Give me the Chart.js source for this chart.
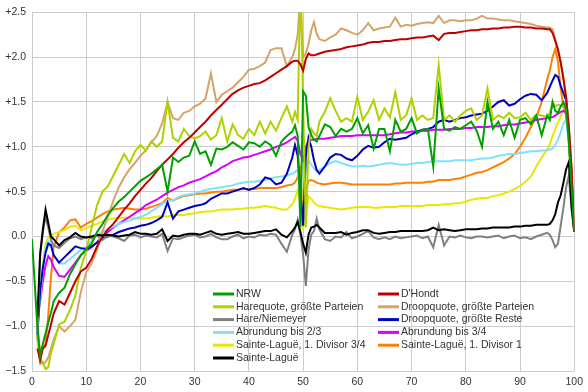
<!DOCTYPE html>
<html>
<head>
<meta charset="utf-8">
<style>
  html, body { margin: 0; padding: 0; background: #fff; }
  #wrap { width: 588px; height: 392px; }
</style>
<script src="https://cdn.jsdelivr.net/npm/chart.js@4.4.1/dist/chart.umd.min.js"></script>
</head>
<body>
<div id="wrap"><canvas id="chart" width="588" height="392"></canvas></div>
<script>
// ── Data ───────────────────────────────────────────────────────────────────
// shared x values; half steps where the curves move fast

const XS = [
  0, 0.5, 1, 1.5, 2, 2.5, 3, 3.5, 4,
  5, 6, 7, 8, 9, 10, 11, 12, 13, 14,
  15, 16, 17, 18, 19, 20, 21, 22, 23, 24,
  25, 26, 27, 28, 29, 30, 31, 32, 33, 34,
  35, 36, 37, 38, 39, 40, 41, 42, 43, 44,
  45, 46, 47, 48,
  48.5, 49, 49.5, 50, 50.5, 51, 51.5, 52, 52.5, 53,
  54, 55, 56, 57, 58, 59, 60, 61, 62, 63,
  64, 65, 66, 67, 68, 69, 70, 71, 72, 73,
  74, 75, 76, 77, 78, 79, 80, 81, 82, 83,
  84, 85, 86, 87, 88, 89, 90, 91, 92, 93,
  94, 95, 95.5, 96, 96.5, 97, 97.5, 98, 98.5, 99, 99.5, 100
];

const NRW = [
  -0.03, -0.52, -1.02, -1.33, -1.2, -1.08, -0.96, -0.85, -0.72,
  -0.63, -0.57, -0.42, -0.31, -0.21, -0.14, -0.08, 0.05, 0.14, 0.24,
  0.32, 0.39, 0.44, 0.5, 0.56, 0.62, 0.66, 0.7, 0.75, 0.8,
  0.5, 0.88, 0.83, 0.88, 0.9, 1.06, 0.92, 0.95, 0.8, 0.98,
  0.97, 1.0, 1.05, 1.01, 0.97, 1.05, 1.04, 1.0, 1.06, 1.02,
  0.9, 1.06, 1.12, 1.17,
  1.24, 1.12, 0.1, 1.62, 1.57, 1.22, 1.13, 1.08, 1.06, 1.12,
  1.25, 1.22, 1.12, 1.2, 1.17, 1.2, 1.32, 1.15, 1.24, 0.98,
  1.2, 1.2, 0.95, 1.3, 1.17, 1.2, 1.32, 1.15, 1.19, 1.2,
  0.78, 1.65, 1.2, 1.18, 1.22, 1.2, 1.24, 1.28, 1.18, 1.0,
  1.5, 1.2, 1.28, 1.13, 1.3, 1.1, 1.3, 1.32, 1.25, 1.35,
  1.13, 1.35, 1.3, 1.5, 1.4, 1.38, 1.45, 1.5, 1.42, 1.05, 0.55, 0.05
];

const DHONDT = [
  null, null, -1.25, -1.38, -1.25, -1.22, -1.1, -0.98, -0.86,
  -0.72, -0.76, -0.63, -0.5, -0.39, -0.35, -0.25, -0.11, 0.0, 0.08,
  0.14, 0.22, 0.3, 0.37, 0.45, 0.52, 0.59, 0.65, 0.73, 0.8,
  0.86, 0.92, 0.99, 1.05, 1.1, 1.16, 1.22, 1.28, 1.35, 1.41,
  1.47, 1.53, 1.59, 1.63, 1.66, 1.68, 1.7, 1.71, 1.74, 1.78,
  1.82, 1.86, 1.9, 1.95,
  1.96, 1.96, 1.92, 1.85, 1.98, 2.04, 2.02, 2.02, 2.03, 2.04,
  2.06, 2.07, 2.08, 2.09, 2.11, 2.12, 2.13, 2.14, 2.16, 2.17,
  2.17, 2.18, 2.18, 2.19, 2.2, 2.2, 2.21, 2.22, 2.22, 2.23,
  2.24, 2.19, 2.26, 2.27, 2.27, 2.28, 2.29, 2.3, 2.3, 2.31,
  2.31, 2.32, 2.32, 2.33, 2.33, 2.34, 2.34, 2.33, 2.33, 2.32,
  2.32, 2.31, 2.31, 2.27, 2.18, 2.08, 1.94, 1.76, 1.55, 1.22, 0.76, 0.05
];

const HARE_GP = [
  null, null, -1.1, -1.42, -1.4, -1.48, -1.46, -1.3, -1.2,
  -0.98, -0.95, -0.82, -0.66, -0.35, -0.16, 0.1, 0.35, 0.5, 0.56,
  0.68, 0.8, 0.92, 0.82, 0.95, 1.02, 0.96, 1.06, 1.0, 1.06,
  1.5, 1.1, 1.06, 1.2, 1.12, 1.09, 1.12, 1.17, 1.08, 1.13,
  1.32, 1.06, 1.25, 1.13, 1.09, 1.2, 1.13, 1.28, 1.15, 1.28,
  1.18, 1.32, 1.45, 1.28,
  1.39, 1.3, 2.9, 1.5, 0.1, 1.0, 1.2, 1.15, 1.12, 1.28,
  1.39, 1.54, 1.4, 1.28, 1.32, 1.28, 1.56, 1.3, 1.39, 1.52,
  1.3, 1.43, 1.33, 1.61, 1.3, 1.35, 1.54, 1.3, 1.35, 1.3,
  1.32, 1.91, 1.3, 1.35, 1.28, 1.35, 1.4, 1.43, 1.3, 1.35,
  1.65, 1.3, 1.35, 1.32, 1.38, 1.32, 1.33, 1.38, 1.3, 1.36,
  1.35, 1.33, 1.38, 1.5, 1.45, 1.47, 1.46, 1.45, 1.43, 1.1, 0.6, 0.05
];

const DROOP_GP = [
  null, null, -1.15, -1.35, -1.42, -1.4, -1.35, -1.25, -1.15,
  -1.0, -1.06, -1.0, -0.93, -0.62, -0.4, -0.3, -0.15, 0.06, 0.22,
  0.4, 0.55, 0.66, 0.75, 0.82, 0.9, 0.96, 1.05, 1.12, 1.26,
  1.5, 1.32, 1.3, 1.38, 1.4, 1.45, 1.48, 1.54, 1.82, 1.5,
  1.58, 1.62, 1.66, 1.72, 1.78, 1.86, 1.87, 1.9, 1.94, 2.08,
  2.1, 2.1, 1.9, 2.0,
  2.09, 2.25, 2.7, 2.0, 2.04, 2.15, 2.3, 2.39, 2.26, 2.2,
  2.18, 2.22, 2.25, 2.32, 2.3, 2.27, 2.25, 2.3, 2.38, 2.3,
  2.32, 2.33, 2.34, 2.44, 2.34, 2.36, 2.35, 2.37, 2.38, 2.39,
  2.38, 2.46, 2.38, 2.41, 2.41, 2.4, 2.41, 2.41, 2.43, 2.46,
  2.43, 2.43, 2.42, 2.41, 2.41, 2.4, 2.39, 2.38, 2.37, 2.35,
  2.34, 2.33, 2.33, 2.31, 2.2, 2.1, 1.95, 1.77, 1.56, 1.23, 0.77, 0.05
];

const HARE_NIEMEYER = [
  null, null, -1.15, -0.2, 0.04, 0.22, 0.1, -0.04, -0.1,
  -0.13, -0.07, -0.02, 0.0, -0.03, -0.01, -0.02, 0.01, -0.04, 0.01,
  0.0, -0.02, -0.05, 0.01, 0.02, -0.01, 0.01, 0.0, -0.01, 0.03,
  -0.16, -0.02, -0.03, -0.01, 0.01, 0.02, -0.01, 0.0, 0.03, -0.01,
  -0.03, -0.03, 0.0, 0.02, -0.02, 0.0, -0.01, 0.02, 0.01, 0.03,
  0.02, -0.08, -0.17, 0.02,
  0.08, 0.19, 0.02, -0.2, -0.55, -0.15, 0.02, 0.06, 0.2, 0.08,
  -0.03, -0.05, 0.0, -0.01, 0.05, -0.02, 0.0, 0.03, 0.06, -0.01,
  -0.03, -0.01, -0.03, 0.0, -0.02, -0.01, 0.0, 0.01, -0.02, 0.0,
  -0.12, 0.13, -0.1, 0.0, -0.01, 0.01, -0.01, -0.02, 0.0, 0.0,
  -0.01, 0.0, 0.01, -0.02, 0.0, 0.01, -0.02, -0.01, -0.03, 0.0,
  0.02, 0.04, 0.02, -0.04, -0.12, -0.08, 0.12, 0.32, 0.55, 0.68, 0.3, 0.05
];

const DROOP_GR = [
  null, null, -1.1, -0.6, -0.35, -0.18, -0.08, -0.1, -0.21,
  -0.29, -0.23, -0.17, -0.11, -0.13, -0.14, -0.11, -0.07, -0.02, 0.0,
  0.02, 0.05, 0.07, 0.09, 0.1, 0.12, 0.13, 0.15, 0.18, 0.22,
  0.38, 0.2, 0.28, 0.3, 0.32, 0.34, 0.35, 0.37, 0.42, 0.45,
  0.48, 0.48, 0.5, 0.52, 0.54, 0.52, 0.54, 0.58, 0.66, 0.64,
  0.58, 0.6, 0.7, 0.88,
  1.02, 0.9, 0.5, 0.12, 0.9, 1.1, 1.0, 0.85, 0.74, 0.7,
  0.78, 0.88, 0.92, 0.91, 0.87, 0.85, 0.9, 0.97, 1.01, 0.99,
  1.0, 1.05, 1.09, 1.08, 1.09, 1.1, 1.14, 1.17, 1.19, 1.2,
  1.22, 1.28, 1.3, 1.28, 1.3, 1.32, 1.33, 1.35, 1.36, 1.37,
  1.4, 1.45, 1.5, 1.52, 1.46, 1.48, 1.53, 1.57, 1.59, 1.58,
  1.52, 1.6, 1.67, 1.74, 1.8, 1.78, 1.68, 1.6, 1.52, 1.2, 0.7, 0.05
];

const ABR_23 = [
  null, null, -1.05, -0.7, -0.35, -0.12, -0.05, -0.08, -0.2,
  -0.3, -0.3, -0.25, -0.2, -0.15, -0.12, -0.05, 0.02, 0.05, 0.08,
  0.11, 0.14, 0.16, 0.18, 0.2, 0.22, 0.24, 0.28, 0.32, 0.36,
  0.4, 0.4, 0.44, 0.46, 0.47, 0.48, 0.5, 0.52, 0.53, 0.54,
  0.55, 0.56, 0.57, 0.59, 0.6, 0.61, 0.61, 0.62, 0.63, 0.65,
  0.66, 0.67, 0.68, 0.7,
  0.72, 0.74, 0.5, 0.12, 0.76, 0.85, 0.8, 0.76, 0.73, 0.74,
  0.78, 0.82, 0.84, 0.82, 0.8, 0.78, 0.78, 0.79, 0.78, 0.79,
  0.8, 0.81, 0.82, 0.81, 0.8, 0.8, 0.81, 0.82, 0.82, 0.83,
  0.84, 0.84, 0.84, 0.84, 0.85, 0.85, 0.85, 0.85, 0.86, 0.87,
  0.87, 0.88, 0.9, 0.91, 0.92, 0.92, 0.93, 0.94, 0.95, 0.95,
  0.96, 0.96, 0.97, 0.98, 1.02, 1.08, 1.16, 1.26, 1.3, 1.05, 0.6, 0.05
];

const ABR_34 = [
  null, null, -0.9, -0.72, -0.5, -0.32, -0.22, -0.26, -0.34,
  -0.44, -0.45, -0.37, -0.29, -0.21, -0.16, -0.12, -0.06, 0.0, 0.05,
  0.1, 0.14, 0.18, 0.22, 0.26, 0.3, 0.35, 0.38, 0.41, 0.45,
  0.49, 0.52, 0.55, 0.57, 0.6, 0.62, 0.64, 0.67, 0.7, 0.73,
  0.77, 0.8, 0.84, 0.86, 0.88, 0.89, 0.91, 0.93, 0.95, 0.97,
  1.0, 1.02, 1.05, 1.09,
  1.11, 1.07, 0.92, 0.85, 1.0, 1.07, 1.08, 1.08, 1.09, 1.09,
  1.09, 1.1, 1.11, 1.12, 1.12, 1.12, 1.13, 1.13, 1.13, 1.13,
  1.13, 1.13, 1.14, 1.15, 1.16, 1.16, 1.17, 1.17, 1.18, 1.18,
  1.19, 1.19, 1.19, 1.2, 1.2, 1.2, 1.21, 1.21, 1.22, 1.22,
  1.22, 1.23, 1.23, 1.24, 1.25, 1.25, 1.26, 1.27, 1.28, 1.3,
  1.31, 1.32, 1.33, 1.33, 1.35, 1.37, 1.39, 1.4, 1.38, 1.1, 0.6, 0.05
];

const SL_34 = [
  null, null, -1.0, -0.65, -0.3, -0.08, -0.01, 0.01, 0.03,
  0.05, 0.07, 0.11, 0.12, 0.07, 0.09, 0.12, 0.14, 0.17, 0.19,
  0.2, 0.21, 0.21, 0.21, 0.2, 0.2, 0.2, 0.21, 0.22, 0.23,
  0.22, 0.24, 0.24, 0.24, 0.25, 0.26, 0.27, 0.28, 0.28, 0.29,
  0.3, 0.3, 0.3, 0.31, 0.31, 0.32, 0.32, 0.33, 0.34, 0.33,
  0.32, 0.3, 0.3, 0.36,
  0.42, 0.52, 0.4, 0.1, 0.2, 0.45, 0.42, 0.38, 0.35, 0.34,
  0.33, 0.32, 0.31, 0.3, 0.31, 0.32, 0.33, 0.33, 0.33, 0.32,
  0.32, 0.33, 0.33, 0.33, 0.34, 0.34, 0.34, 0.34, 0.34, 0.35,
  0.35, 0.35, 0.36, 0.36, 0.37, 0.37, 0.39, 0.41, 0.42, 0.43,
  0.43, 0.45, 0.46, 0.48, 0.5, 0.53, 0.56, 0.61, 0.67, 0.78,
  0.88, 0.97, 1.03, 1.12, 1.2, 1.27, 1.34, 1.4, 1.38, 1.1, 0.6, 0.05
];

const SL_1 = [
  null, null, -1.0, -1.3, -1.22, -1.2, -0.88, -0.45, -0.12,
  0.05, 0.1, 0.18, 0.19, 0.1, 0.14, 0.17, 0.21, 0.25, 0.28,
  0.3, 0.31, 0.32, 0.31, 0.3, 0.3, 0.31, 0.33, 0.35, 0.37,
  0.43, 0.4, 0.43, 0.45, 0.46, 0.47, 0.48, 0.48, 0.49, 0.5,
  0.5, 0.51, 0.52, 0.52, 0.53, 0.53, 0.53, 0.54, 0.54, 0.54,
  0.54, 0.55, 0.57, 0.58,
  0.6, 0.66, 0.75, 0.1, 0.5, 0.62, 0.63, 0.62, 0.6, 0.59,
  0.58, 0.59, 0.6, 0.6, 0.59, 0.58, 0.58, 0.58, 0.58, 0.58,
  0.58, 0.58, 0.58, 0.59, 0.59, 0.6, 0.6, 0.6, 0.6, 0.61,
  0.61, 0.63, 0.63, 0.63, 0.64, 0.65, 0.67, 0.69, 0.71, 0.72,
  0.74, 0.77, 0.8, 0.83, 0.87, 0.92, 1.0, 1.1, 1.22, 1.33,
  1.5, 1.75, 1.85, 2.0, 2.09, 1.95, 1.65, 1.45, 1.35, 1.1, 0.6, 0.05
];

const SL = [
  null, null, -0.9, -0.2, 0.08, 0.3, 0.15, 0.0, -0.03,
  -0.1, -0.04, -0.01, 0.04, 0.0, -0.01, 0.0, 0.02, 0.01, 0.02,
  0.01, 0.0, 0.01, 0.02, 0.05, 0.03, 0.03, 0.02, 0.03, 0.08,
  -0.05, 0.01, 0.0, 0.02, 0.03, 0.03, 0.02, 0.04, 0.06, 0.03,
  0.02, 0.03, 0.04, 0.05, 0.03, 0.03, 0.04, 0.05, 0.06, 0.06,
  0.08, 0.02, -0.01, 0.06,
  0.1, 0.16, 0.05, -0.08, -0.18, 0.02, 0.1, 0.11, 0.13, 0.1,
  0.04, 0.04, 0.04, 0.05, 0.02, 0.04, 0.05, 0.07, 0.07, 0.04,
  0.03, 0.04, 0.05, 0.05, 0.06, 0.06, 0.06, 0.06, 0.06, 0.07,
  0.1, 0.07, 0.08, 0.07, 0.06, 0.07, 0.08, 0.08, 0.08, 0.09,
  0.09, 0.1, 0.1, 0.1, 0.1, 0.11, 0.11, 0.12, 0.12, 0.13,
  0.13, 0.13, 0.14, 0.18, 0.25, 0.38, 0.46, 0.6, 0.75, 0.83, 0.35, 0.05
];

const Y_TICKS = [-1.5, -1.0, -0.5, 0.0, 0.5, 1.0, 1.5, 2.0, 2.5];
const X_TICKS = [0, 10, 20, 30, 40, 50, 60, 70, 80, 90, 100];

// ── Series (legend order, row by row) ──────────────────────────────────────

const SERIES = [
  { label: 'NRW',                          values: NRW,           color: '#00a000', z: 0 },
  { label: "D'Hondt",                      values: DHONDT,        color: '#c00000', z: 2 },
  { label: 'Harequote, größte Parteien',   values: HARE_GP,       color: '#b0d000', z: 3 },
  { label: 'Droopquote, größte Parteien',  values: DROOP_GP,      color: '#d4a46a', z: 4 },
  { label: 'Hare/Niemeyer',                values: HARE_NIEMEYER, color: '#808080', z: 5 },
  { label: 'Droopquote, größte Reste',     values: DROOP_GR,      color: '#0000c0', z: 6 },
  { label: 'Abrundung bis 2/3',            values: ABR_23,        color: '#80e0ff', z: 7 },
  { label: 'Abrundung bis 3/4',            values: ABR_34,        color: '#d800ff', z: 8 },
  { label: 'Sainte-Laguë, 1. Divisor 3/4', values: SL_34,         color: '#e8e800', z: 9 },
  { label: 'Sainte-Laguë, 1. Divisor 1',   values: SL_1,          color: '#ff8000', z: 10 },
  { label: 'Sainte-Laguë',                 values: SL,            color: '#000000', z: 1 }
];

const FONT = '"Liberation Sans", Arial, sans-serif';

const fmtY = v => v > 0 ? '+' + v.toFixed(1) : v < 0 ? '\u2212' + (-v).toFixed(1) : '0.0';

// ── Legend inside the plot, two columns ────────────────────────────────────

const innerLegend = {
  id: 'innerLegend',
  afterDraw(chart) {
    const { ctx, chartArea } = chart;
    const colX = [chartArea.left + 181, chartArea.left + 346];
    const top  = chartArea.bottom - 77;
    const rowH = 12.8;
    ctx.save();
    ctx.font = `10.5px ${FONT}`;
    ctx.textBaseline = 'middle';
    chart.data.datasets.forEach((ds, i) => {
      const x = colX[i % 2];
      const y = top + Math.floor(i / 2) * rowH;
      ctx.strokeStyle = ds.borderColor;
      ctx.lineWidth = 3;
      ctx.beginPath();
      ctx.moveTo(x, y);
      ctx.lineTo(x + 21, y);
      ctx.stroke();
      ctx.fillStyle = '#333';
      ctx.fillText(ds.label, x + 23, y);
    });
    ctx.restore();
  }
};

// ── Chart ──────────────────────────────────────────────────────────────────

new Chart(document.getElementById('chart'), {
  type: 'line',
  data: {
    datasets: SERIES.map(s => ({
      label: s.label,
      data: XS.map((x, k) => ({ x, y: s.values[k] })),
      borderColor: s.color,
      backgroundColor: s.color,
      borderWidth: 2,
      pointRadius: 0,
      tension: 0,
      order: s.z
    }))
  },
  options: {
    responsive: false,
    devicePixelRatio: 1,
    animation: false,
    layout: { padding: { top: 11, right: 13, left: 0, bottom: 0 } },
    plugins: { legend: { display: false }, tooltip: { enabled: false } },
    scales: {
      x: {
        type: 'linear',
        min: 0,
        max: 100,
        afterBuildTicks: s => { s.ticks = X_TICKS.map(v => ({ value: v })); },
        afterFit: s => { s.height = 21; },
        grid: { color: '#cccccc', lineWidth: 1, drawTicks: false },
        border: { display: false },
        ticks: { color: '#333', padding: 5, font: { family: FONT, size: 10.5 }, maxRotation: 0 }
      },
      y: {
        min: -1.5,
        max: 2.5,
        afterBuildTicks: s => { s.ticks = Y_TICKS.map(v => ({ value: v })); },
        afterFit: s => { s.width = 32; },
        grid: { color: '#cccccc', lineWidth: 1, drawTicks: false },
        border: { display: false },
        ticks: { color: '#333', padding: 6, font: { family: FONT, size: 10.5 }, callback: fmtY }
      }
    }
  },
  plugins: [innerLegend]
});
</script>
</body>
</html>
